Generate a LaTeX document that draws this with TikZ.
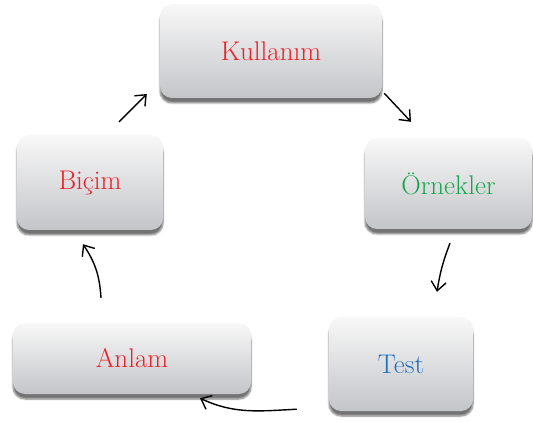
\documentclass[tikz,border=0pt]{standalone}
\usepackage{fontspec}
\usepackage{xcolor}
\usepackage{tikz}
\usetikzlibrary{arrows.meta, calc, shadows.blur}
\definecolor{wordred}{RGB}{236,32,40}
\definecolor{wordgreen}{RGB}{20,168,76}
\definecolor{wordblue}{RGB}{30,112,190}
\definecolor{boxtop}{RGB}{248,248,248}
\definecolor{boxbottom}{RGB}{196,197,201}
\tikzstyle{arrow} = [line width=1.4pt, -{Straight Barb[length=9pt,width=15pt]}]
\tikzstyle{block} = [rectangle, rounded corners=12pt, top color=boxtop, bottom color=boxbottom,
  blur shadow={shadow xshift=0pt, shadow yshift=-5pt, shadow blur steps=6, shadow opacity=55},
  font=\fontsize{27}{31}\selectfont, inner sep=0pt]
\tikzset{every node/.style={align=center}}

\begin{document}
\begin{tikzpicture}[x=1pt, y=1pt]
    \useasboundingbox (0,0) rectangle (533,421);
    \node (kull)   [block, minimum width=222pt, minimum height=94pt, text=wordred]   at (271,370)   {Kullanım};
    \node (bicim)  [block, minimum width=146pt, minimum height=95pt, text=wordred]   at (90,238.5)  {Biçim};
    \node (ornek)  [block, minimum width=167pt, minimum height=91pt, text=wordgreen] at (448.5,237.5) {Örnekler};
    \node (test)   [block, minimum width=144pt, minimum height=94pt, text=wordblue]  at (401,57)    {Test};
    \node (anlam)  [block, minimum width=238pt, minimum height=71pt, text=wordred]   at (132,62.5)  {Anlam};

    \draw [arrow] ($(bicim.north)+(29,13)$) -- ($(kull.west)+(-13,-43)$);
    \draw [arrow] ($(kull.south east)+(2,5)$) -- ($(ornek.north)+(-37.5,16)$);
    \draw [arrow] ($(ornek.south)+(1.5,-14)$) to[bend right=6] ($(test.north)+(36,25)$);
    \draw [arrow] ($(test.south west)+(-32,2)$) to[out=183, in=-25] ($(anlam.south)+(68,-4)$);
    \draw [arrow] ($(anlam.north)+(-31,25)$) to[bend right=15] ($(bicim.south)+(-7,-14)$);
\end{tikzpicture}
\end{document}
